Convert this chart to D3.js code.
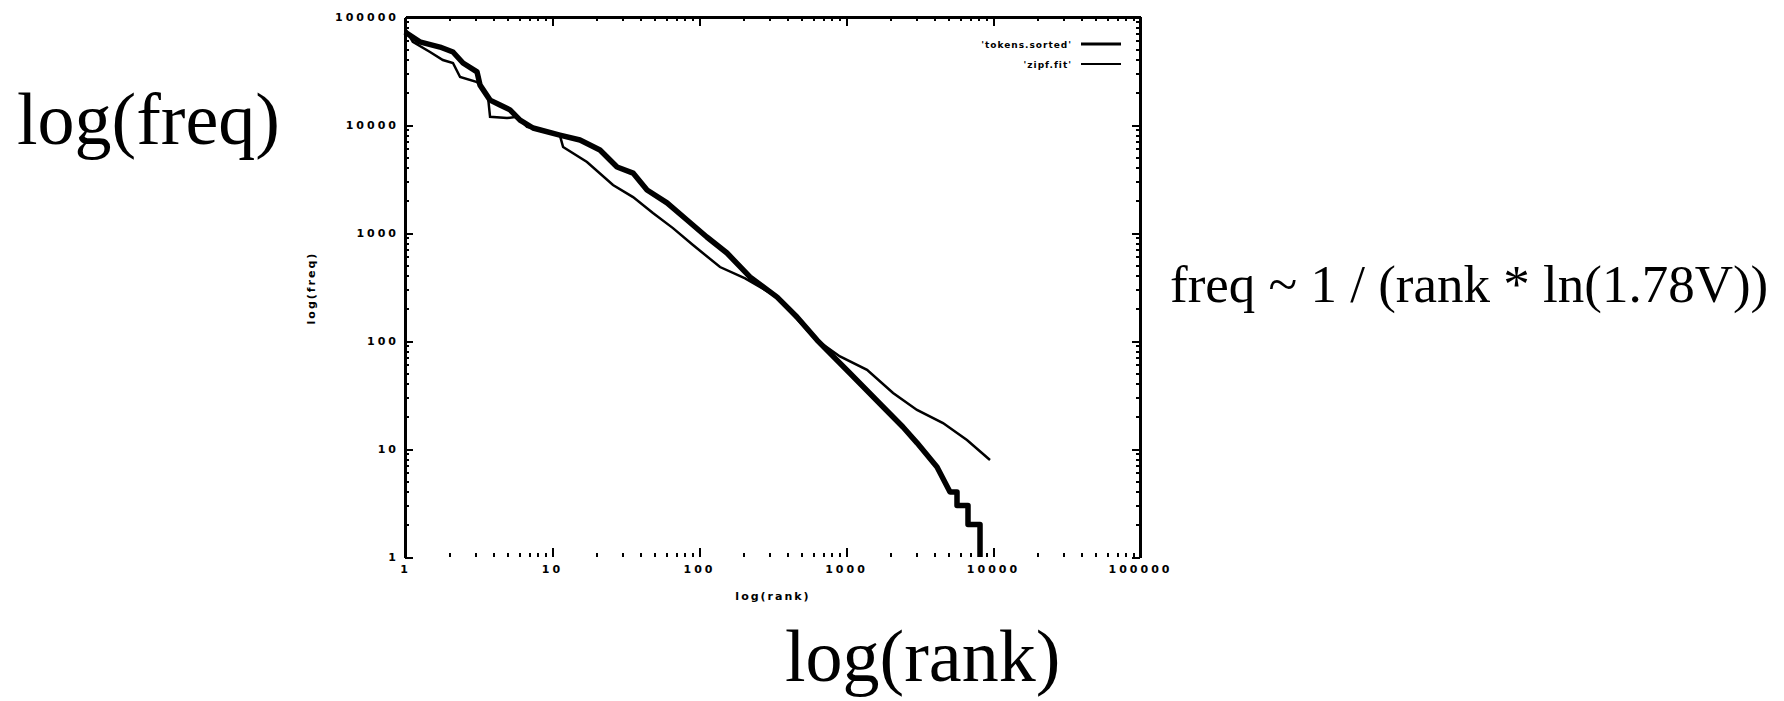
<!DOCTYPE html>
<html>
<head>
<meta charset="utf-8">
<title>log(freq) vs log(rank)</title>
<script src="https://cdn.jsdelivr.net/npm/d3@7"></script>
<style>
  body { margin: 0; background: #fff; }
  .tick text { font-family: "DejaVu Sans", sans-serif; font-weight: bold; font-size: 11px; letter-spacing: 3px; fill: #000; }
  .tick line, .domain { stroke: #000; shape-rendering: crispEdges; }
  .big { font-family: "Liberation Serif", "Times New Roman", serif; fill: #000; }
  .small { font-family: "DejaVu Sans", sans-serif; font-weight: bold; font-size: 11px; letter-spacing: 2px; fill: #000; }
</style>
</head>
<body>
<script>

// series A: observed word counts (heavy line)
var ranksA = [1, 1.26, 1.73, 2.12, 2.48, 3.09, 3.24, 3.79, 4.43, 5.18, 6.06, 7.43, 11.3, 15.5, 21.2,
  27.7, 35.6, 44.3, 60.6, 82.9, 113, 155, 222, 340, 464, 635, 1060, 1790, 2440, 3040,
  4160, 5100, 5690, 5690, 6760, 6760, 8160, 8160];
var freqA = [72600, 58800, 52700, 47400, 37500, 31000, 23400, 17000, 15300, 13800, 11100, 9380, 8070, 7260, 5870,
  4080, 3590, 2500, 1900, 1320, 918, 653, 392, 255, 167, 102, 50.6, 24.5, 16, 11.4,
  6.8, 4, 4, 3, 3, 2, 2, 1];

// series B: second curve (thin line)
var ranksB = [1, 1.13, 1.48, 1.81, 2.12, 2.37, 3.09, 3.67, 3.79, 4.94, 5.78, 6.76, 11.3, 11.9, 17.3,
  26.0, 35.6, 48.6, 66.5, 91, 139, 206, 340, 615, 910, 1390, 2090, 3040, 4570, 6650, 9540];
var freqB = [78300, 58800, 47400, 40000, 37500, 27800, 25000, 18200, 11900, 11600, 11900, 9600, 8070, 6250, 4540,
  2780, 2150, 1530, 1110, 774, 484, 380, 255, 105, 72, 54, 33, 23, 17.4, 12.1, 7.9];

var majorTicks = [1, 10, 100, 1000, 10000, 100000];
var tickLabels = ["1", "10", "100", "1000", "10000", "100000"];
var legendLabels = ["'tokens.sorted'", "'zipf.fit'"];

var minorTicks = [];
for (var e = 0; e < 5; e++) {
  for (var m = 2; m < 10; m++) minorTicks.push(m * Math.pow(10, e));
}

var svg = d3.select("body").append("svg")
  .attr("width", 1784)
  .attr("height", 701);

var x = d3.scaleLog().domain([1, 100000]).range([405, 1140]);
var y = d3.scaleLog().domain([1, 100000]).range([557, 17]);

function style(g, domainWidth) {
  g.selectAll(".tick line").attr("stroke-width", 2);
  g.select(".domain").attr("stroke-width", domainWidth);
}

// bottom (no base line in the picture, only ticks)
svg.append("g")
  .attr("transform", "translate(0,557)")
  .call(d3.axisBottom(x).tickValues(majorTicks).tickFormat(function (d, i) { return tickLabels[i]; })
    .tickSizeInner(-9).tickSizeOuter(0).tickPadding(8))
  .call(function (g) { g.select(".domain").remove(); style(g, 0); });
svg.append("g")
  .attr("transform", "translate(0,557)")
  .call(d3.axisBottom(x).tickValues(minorTicks).tickFormat("").tickSizeInner(-4).tickSizeOuter(0))
  .call(function (g) { g.select(".domain").remove(); style(g, 0); });

// top
svg.append("g")
  .attr("transform", "translate(0,17)")
  .call(d3.axisTop(x).tickValues(majorTicks).tickFormat("").tickSizeInner(-9).tickSizeOuter(0))
  .call(function (g) { style(g, 3); });
svg.append("g")
  .attr("transform", "translate(0,17)")
  .call(d3.axisTop(x).tickValues(minorTicks).tickFormat("").tickSizeInner(-4).tickSizeOuter(0))
  .call(function (g) { style(g, 3); });

// left
svg.append("g")
  .attr("transform", "translate(405,0)")
  .call(d3.axisLeft(y).tickValues(majorTicks).tickFormat(function (d, i) { return tickLabels[i]; })
    .tickSizeInner(-8).tickSizeOuter(0).tickPadding(6))
  .call(function (g) { style(g, 3); });
svg.append("g")
  .attr("transform", "translate(405,0)")
  .call(d3.axisLeft(y).tickValues(minorTicks).tickFormat("").tickSizeInner(-4).tickSizeOuter(0))
  .call(function (g) { style(g, 3); });

// right
svg.append("g")
  .attr("transform", "translate(1140,0)")
  .call(d3.axisRight(y).tickValues(majorTicks).tickFormat("").tickSizeInner(-8).tickSizeOuter(0))
  .call(function (g) { style(g, 3); });
svg.append("g")
  .attr("transform", "translate(1140,0)")
  .call(d3.axisRight(y).tickValues(minorTicks).tickFormat("").tickSizeInner(-4).tickSizeOuter(0))
  .call(function (g) { style(g, 3); });

var line = d3.line()
  .x(function (d) { return x(d[0]); })
  .y(function (d) { return y(d[1]); });

svg.append("path")
  .datum(d3.zip(ranksB, freqB))
  .attr("d", line)
  .attr("fill", "none")
  .attr("stroke", "#000")
  .attr("stroke-width", 2.5);

svg.append("path")
  .datum(d3.zip(ranksA, freqA))
  .attr("d", line)
  .attr("fill", "none")
  .attr("stroke", "#000")
  .attr("stroke-width", 5.5)
  .attr("stroke-linejoin", "round");

// legend
var legend = svg.append("g").attr("class", "small");
legendLabels.forEach(function (lab, i) {
  var ly = 44 + i * 20;
  legend.append("text")
    .attr("x", 1072)
    .attr("y", ly + 4)
    .attr("text-anchor", "end")
    .style("font-size", "9px")
    .style("letter-spacing", "1px")
    .text(lab);
  legend.append("line")
    .attr("x1", 1081).attr("x2", 1121)
    .attr("y1", ly).attr("y2", ly)
    .attr("stroke", "#000")
    .attr("stroke-width", i == 0 ? 3 : 2);
});

// small axis titles
svg.append("text")
  .attr("class", "small")
  .attr("x", 773)
  .attr("y", 600)
  .attr("text-anchor", "middle")
  .text("log(rank)");

svg.append("text")
  .attr("class", "small")
  .attr("transform", "translate(315,288) rotate(-90)")
  .attr("text-anchor", "middle")
  .text("log(freq)");

// large annotations
svg.append("text")
  .attr("class", "big")
  .attr("x", 17)
  .attr("y", 144)
  .style("font-size", "74px")
  .text("log(freq)");

svg.append("text")
  .attr("class", "big")
  .attr("x", 785)
  .attr("y", 681)
  .style("font-size", "74px")
  .text("log(rank)");

svg.append("text")
  .attr("class", "big")
  .attr("x", 1170)
  .attr("y", 302)
  .style("font-size", "53px")
  .text("freq ~ 1 / (rank * ln(1.78V))");

</script>
</body>
</html>
